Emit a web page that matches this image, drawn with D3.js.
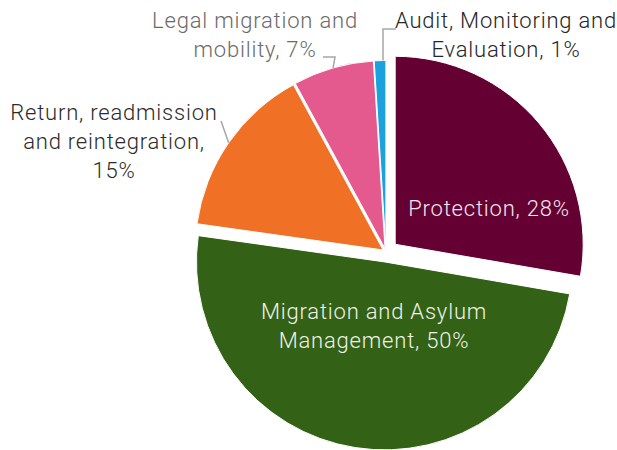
<!DOCTYPE html>
<html><head><meta charset="utf-8">
<script src="https://cdn.jsdelivr.net/npm/d3@7"></script>
<style>body{margin:0;background:#fff}svg{display:block}</style></head>
<body><svg id="c" width="617" height="450"></svg>
<script>
// ---- data ----
const categories = ["Protection", "Migration and Asylum Management", "Return, readmission and reintegration", "Legal migration and mobility", "Audit, Monitoring and Evaluation"];
const values = [28, 50, 15, 7, 1];
// how each category label is wrapped (text only)
const labelLines = [
  ["Protection, 28%"],
  ["Migration and Asylum", "Management, 50%"],
  ["Return, readmission", "and reintegration,", "15%"],
  ["Legal migration and", "mobility, 7%"],
  ["Audit, Monitoring and", "Evaluation, 1%"]
];

// ---- style / layout ----
const colors = ["#650033", "#336115", "#F07126", "#E55A8E", "#1BA1DC"];
const explode = [12, 10, 3.5, 3.5, 3.5];
const labelFill = ["#f3e6ec", "#eef2ea", "#2b2b2b", "#6b6b6b", "#262626"];
const labelPos = [[489, 216], [374, 319], [114, 120], [255, 28], [506, 28]];
const leaderFrom = [null, null, [[221, 121]], [[323, 57], [335, 57]], [[396, 29], [383, 29]]];
const cx = 386, cy = 252, R = 188, lineH = 29;

const svg = d3.select("#c");
const pie = d3.pie().sort(null).value(d => d)(values);
const arc = d3.arc().innerRadius(0).outerRadius(R);
const edge = d3.arc().innerRadius(R).outerRadius(R);

const g = svg.append("g").attr("transform", `translate(${cx},${cy})`);

pie.forEach((p, i) => {
  const mid = (p.startAngle + p.endAngle) / 2;
  const dx = explode[i] * Math.sin(mid), dy = -explode[i] * Math.cos(mid);
  p.dx = dx; p.dy = dy;
  g.append("path")
    .attr("d", arc(p))
    .attr("transform", `translate(${dx},${dy})`)
    .attr("fill", colors[i])
    .attr("stroke", "#fff")
    .attr("stroke-width", 1);
});

// leader lines
pie.forEach((p, i) => {
  if (!leaderFrom[i]) return;
  const c = edge.centroid(p);
  const end = [cx + c[0] + p.dx, cy + c[1] + p.dy];
  let pts = leaderFrom[i].slice();
  if (i === 4) pts.push([pts[pts.length - 1][0], end[1]]);
  else pts.push(end);
  svg.append("path")
    .attr("d", d3.line()(pts))
    .attr("fill", "none")
    .attr("stroke", "#a6a6a6")
    .attr("stroke-width", 1.5);
});

// labels
labelLines.forEach((lines, i) => {
  const t = svg.append("text")
    .attr("x", labelPos[i][0]).attr("y", labelPos[i][1])
    .attr("text-anchor", "middle")
    .attr("font-family", "Roboto, sans-serif")
    .attr("font-weight", 300)
    .attr("font-size", 22)
    .attr("letter-spacing", "0.8px")
    .attr("fill", labelFill[i]);
  lines.forEach((l, j) => {
    t.append("tspan").attr("x", labelPos[i][0]).attr("dy", j === 0 ? 0 : lineH).text(l);
  });
});
</script></body></html>
